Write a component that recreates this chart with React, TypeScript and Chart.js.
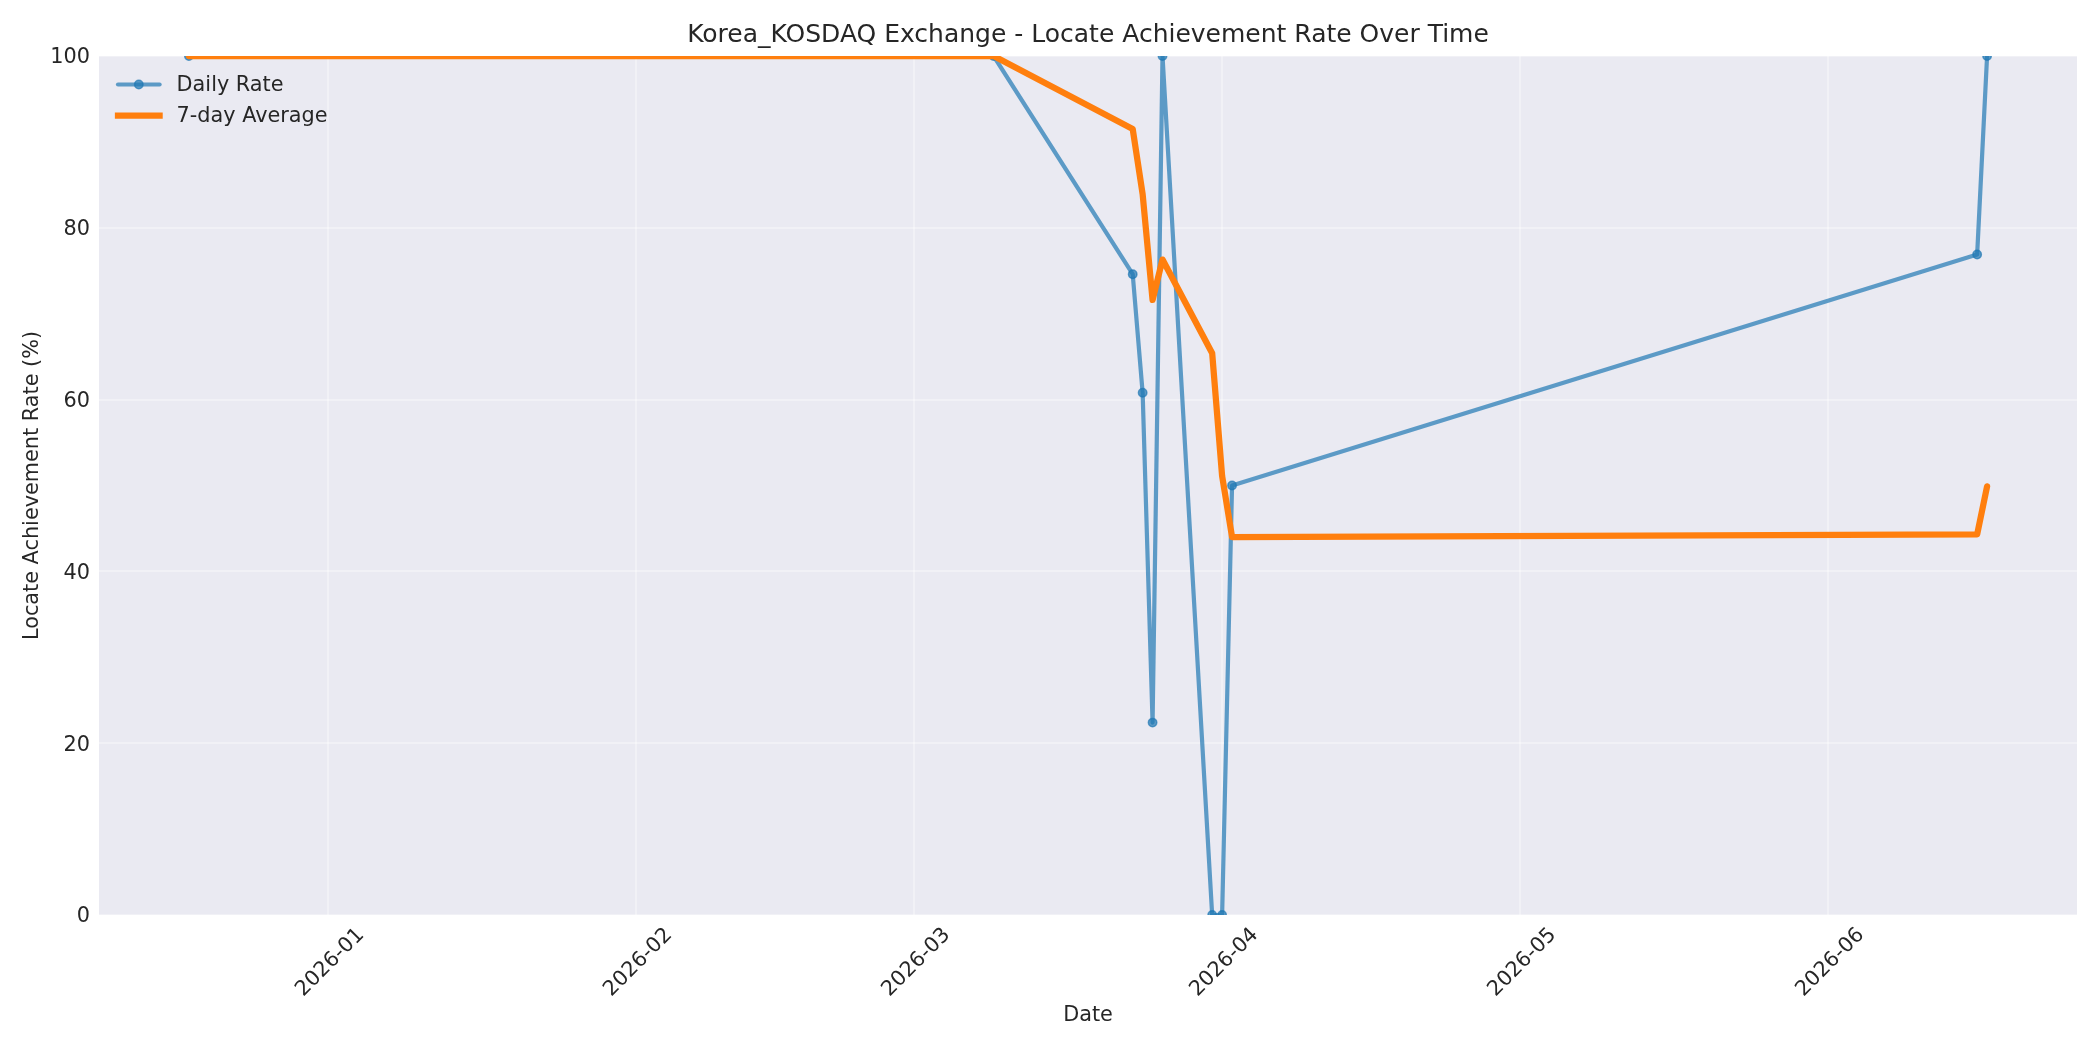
import { useEffect, useRef } from "react";
import { Chart, registerables } from "chart.js";

Chart.register(...registerables);

// Values
const DATES = [
  "2025-12-18",
  "2026-03-09",
  "2026-03-23",
  "2026-03-24",
  "2026-03-25",
  "2026-03-26",
  "2026-03-31",
  "2026-04-01",
  "2026-04-02",
  "2026-06-16",
  "2026-06-17",
];
const DAILY_RATE = [100, 100, 74.6, 60.8, 22.4, 100, 0, 0, 50, 76.9, 100];
const AVG_7DAY = [100, 100, 91.5, 83.9, 71.6, 76.3, 65.4, 51.1, 44.0, 44.3, 49.9];
const MONTH_TICKS = ["2026-01", "2026-02", "2026-03", "2026-04", "2026-05", "2026-06"];
const Y_TICKS = [0, 20, 40, 60, 80, 100];

const FONT = "'DejaVu Sans', sans-serif";
const TEXT = "#262626";
const BLUE = "rgba(31,119,180,0.7)";
const ORANGE = "#ff7f0e";
const GRID = "rgba(255,255,255,0.35)";

// day number (UTC) of an ISO date or a month label
const toDay = (s: string) => Date.parse(s.length === 7 ? s + "-01" : s) / 86400000;

const backgroundPlugin = {
  id: "axesBackground",
  beforeDraw(chart: Chart) {
    const { ctx, chartArea } = chart;
    ctx.save();
    ctx.fillStyle = "#eaeaf2";
    ctx.fillRect(chartArea.left, chartArea.top, chartArea.right - chartArea.left, chartArea.bottom - chartArea.top);
    ctx.restore();
  },
};

// matplotlib-like frameless legend in the upper left of the axes
const insideLegendPlugin = {
  id: "insideLegend",
  afterDraw(chart: Chart) {
    const { ctx, chartArea } = chart;
    const rows = [
      { label: "Daily Rate", color: BLUE, width: 4.2, marker: true },
      { label: "7-day Average", color: ORANGE, width: 6.25, marker: false },
    ];
    ctx.save();
    ctx.font = `20.8px ${FONT}`;
    ctx.textBaseline = "middle";
    rows.forEach((r, i) => {
      const y = chartArea.top + 28.5 + i * 31;
      const x0 = chartArea.left + 19;
      const x1 = x0 + 41.6;
      ctx.strokeStyle = r.color;
      ctx.lineWidth = r.width;
      ctx.lineCap = r.marker ? "round" : "square";
      ctx.beginPath();
      ctx.moveTo(x0, y);
      ctx.lineTo(x1, y);
      ctx.stroke();
      if (r.marker) {
        ctx.fillStyle = r.color;
        ctx.lineWidth = 1.5;
        ctx.beginPath();
        ctx.arc((x0 + x1) / 2, y, 4.2, 0, Math.PI * 2);
        ctx.fill();
        ctx.stroke();
      }
      ctx.fillStyle = TEXT;
      ctx.fillText(r.label, x1 + 17, y + 1);
    });
    ctx.restore();
  },
};

export default function App() {
  const canvasRef = useRef<HTMLCanvasElement>(null);

  useEffect(() => {
    if (!canvasRef.current) return;
    const days = DATES.map(toDay);
    const span = days[days.length - 1] - days[0];
    const xMin = days[0] - span * 0.05;
    const xMax = days[days.length - 1] + span * 0.05;

    const chart = new Chart(canvasRef.current, {
      type: "line",
      data: {
        datasets: [
          {
            label: "7-day Average",
            data: days.map((d, i) => ({ x: d, y: AVG_7DAY[i] })),
            borderColor: ORANGE,
            borderWidth: 6.25,
            pointRadius: 0,
            pointHoverRadius: 0,
            tension: 0,
            borderJoinStyle: "round",
            borderCapStyle: "round",
            clip: 0,
            order: 0,
          },
          {
            label: "Daily Rate",
            data: days.map((d, i) => ({ x: d, y: DAILY_RATE[i] })),
            borderColor: BLUE,
            borderWidth: 4.2,
            pointRadius: 4.2,
            pointHoverRadius: 4.2,
            pointBackgroundColor: BLUE,
            pointBorderColor: BLUE,
            pointBorderWidth: 1.5,
            tension: 0,
            borderJoinStyle: "round",
            borderCapStyle: "round",
            clip: 0,
            order: 1,
          },
        ],
      },
      options: {
        animation: false,
        responsive: true,
        maintainAspectRatio: false,
        devicePixelRatio: 1,
        layout: { padding: { top: 0, right: 23, bottom: 0, left: 0 } },
        plugins: {
          legend: { display: false },
          tooltip: { enabled: false },
          title: {
            display: true,
            text: "Korea_KOSDAQ Exchange - Locate Achievement Rate Over Time",
            color: TEXT,
            font: { family: FONT, size: 25, weight: "normal" },
            padding: { top: 20, bottom: 6 },
            fullSize: false,
          },
        },
        scales: {
          x: {
            type: "linear",
            min: xMin,
            max: xMax,
            afterBuildTicks: (s) => {
              s.ticks = MONTH_TICKS.map((m) => ({ value: toDay(m) }));
            },
            afterFit: (s) => {
              s.height = 135;
            },
            ticks: {
              autoSkip: false,
              minRotation: 45,
              maxRotation: 45,
              padding: 8,
              labelOffset: 33,
              color: TEXT,
              font: { family: FONT, size: 20.8 },
              callback: (_v, i) => MONTH_TICKS[i],
            },
            grid: { color: GRID, lineWidth: 2, drawTicks: false },
            border: { display: false },
            title: {
              display: true,
              text: "Date",
              color: TEXT,
              font: { family: FONT, size: 20.8 },
              padding: { top: 0, bottom: 22 },
            },
          },
          y: {
            min: 0,
            max: 100,
            afterBuildTicks: (s) => {
              s.ticks = Y_TICKS.map((v) => ({ value: v }));
            },
            afterFit: (s) => {
              s.width = 99;
            },
            ticks: {
              padding: 9,
              labelOffset: 2,
              color: TEXT,
              font: { family: FONT, size: 20.8 },
            },
            grid: { color: GRID, lineWidth: 2, drawTicks: false },
            border: { display: false },
            title: {
              display: true,
              text: "Locate Achievement Rate (%)",
              color: TEXT,
              font: { family: FONT, size: 20.8 },
              padding: { top: 20, bottom: 0 },
            },
          },
        },
      },
      plugins: [backgroundPlugin, insideLegendPlugin],
    });

    return () => {
      chart.destroy();
    };
  }, []);

  return (
    <div style={{ position: "absolute", left: 0, top: 0, width: 2100, height: 1050, background: "#fff" }}>
      <canvas ref={canvasRef} />
    </div>
  );
}
